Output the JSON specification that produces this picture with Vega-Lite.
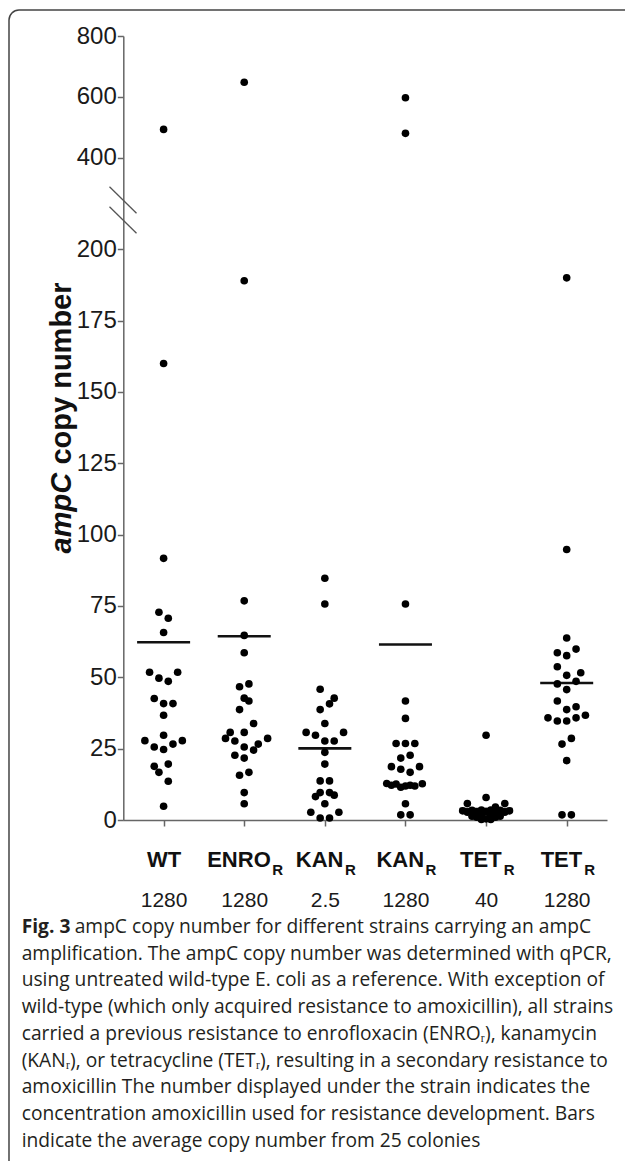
{
  "$schema": "https://vega.github.io/schema/vega-lite/v6.json",
  "autosize": {"type": "none"},
  "padding": {"left": 9, "top": 10, "right": -24, "bottom": -29},
  "width": 640,
  "height": 1180,
  "config": {
    "view": {"stroke": "#444", "strokeWidth": 1.5, "cornerRadius": 10},
    "font": "Liberation Sans",
    "axis": {"grid": false}
  },
  "datasets": {
    "points": [
      {"s": "WT|1280", "v": 493, "k": 0}, {"s": "WT|1280", "v": 160, "k": 0}, {"s": "WT|1280", "v": 91.7, "k": 0},
      {"s": "WT|1280", "v": 72.8, "k": -1}, {"s": "WT|1280", "v": 70.7, "k": 1}, {"s": "WT|1280", "v": 65.7, "k": 0},
      {"s": "WT|1280", "v": 51.8, "k": -3}, {"s": "WT|1280", "v": 49.7, "k": -1}, {"s": "WT|1280", "v": 48.6, "k": 1},
      {"s": "WT|1280", "v": 51.8, "k": 3}, {"s": "WT|1280", "v": 42.6, "k": -2}, {"s": "WT|1280", "v": 40.8, "k": 0},
      {"s": "WT|1280", "v": 40.8, "k": 2}, {"s": "WT|1280", "v": 36.7, "k": 0}, {"s": "WT|1280", "v": 29.7, "k": 0},
      {"s": "WT|1280", "v": 27.8, "k": -4}, {"s": "WT|1280", "v": 25.6, "k": -2}, {"s": "WT|1280", "v": 24.7, "k": 0},
      {"s": "WT|1280", "v": 26.6, "k": 2}, {"s": "WT|1280", "v": 27.8, "k": 4}, {"s": "WT|1280", "v": 18.8, "k": -2},
      {"s": "WT|1280", "v": 16.7, "k": -1}, {"s": "WT|1280", "v": 19.6, "k": 1}, {"s": "WT|1280", "v": 13.6, "k": 1},
      {"s": "WT|1280", "v": 4.8, "k": 0},
      {"s": "ENRO|1280", "v": 648, "k": 0}, {"s": "ENRO|1280", "v": 189, "k": 0}, {"s": "ENRO|1280", "v": 76.8, "k": 0},
      {"s": "ENRO|1280", "v": 64.7, "k": 0}, {"s": "ENRO|1280", "v": 58.6, "k": 0}, {"s": "ENRO|1280", "v": 46.7, "k": -1},
      {"s": "ENRO|1280", "v": 47.7, "k": 1}, {"s": "ENRO|1280", "v": 42.7, "k": 0}, {"s": "ENRO|1280", "v": 41.7, "k": 1},
      {"s": "ENRO|1280", "v": 38.7, "k": -1}, {"s": "ENRO|1280", "v": 33.8, "k": 2}, {"s": "ENRO|1280", "v": 30.7, "k": -3},
      {"s": "ENRO|1280", "v": 30.7, "k": 0}, {"s": "ENRO|1280", "v": 28.6, "k": -4}, {"s": "ENRO|1280", "v": 27.7, "k": -2},
      {"s": "ENRO|1280", "v": 28.6, "k": 5}, {"s": "ENRO|1280", "v": 25.6, "k": 0}, {"s": "ENRO|1280", "v": 24.5, "k": 2},
      {"s": "ENRO|1280", "v": 26.6, "k": 3}, {"s": "ENRO|1280", "v": 22.7, "k": -2}, {"s": "ENRO|1280", "v": 21.7, "k": 0},
      {"s": "ENRO|1280", "v": 15.7, "k": -1}, {"s": "ENRO|1280", "v": 16.7, "k": 1}, {"s": "ENRO|1280", "v": 9.6, "k": 0},
      {"s": "ENRO|1280", "v": 5.7, "k": 0},
      {"s": "KAN|2.5", "v": 84.7, "k": 0}, {"s": "KAN|2.5", "v": 75.7, "k": 0}, {"s": "KAN|2.5", "v": 45.8, "k": -1},
      {"s": "KAN|2.5", "v": 42.7, "k": 2}, {"s": "KAN|2.5", "v": 40.7, "k": 1}, {"s": "KAN|2.5", "v": 38.7, "k": -1},
      {"s": "KAN|2.5", "v": 33.8, "k": 0}, {"s": "KAN|2.5", "v": 30.7, "k": -4}, {"s": "KAN|2.5", "v": 29.7, "k": -2},
      {"s": "KAN|2.5", "v": 30.7, "k": 4}, {"s": "KAN|2.5", "v": 27.7, "k": 0}, {"s": "KAN|2.5", "v": 27.7, "k": 2},
      {"s": "KAN|2.5", "v": 23.7, "k": 0}, {"s": "KAN|2.5", "v": 19.6, "k": 0}, {"s": "KAN|2.5", "v": 13.7, "k": -1},
      {"s": "KAN|2.5", "v": 13.7, "k": 1}, {"s": "KAN|2.5", "v": 8.2, "k": -2}, {"s": "KAN|2.5", "v": 9.6, "k": -1},
      {"s": "KAN|2.5", "v": 9.6, "k": 1}, {"s": "KAN|2.5", "v": 8.7, "k": 2}, {"s": "KAN|2.5", "v": 5.7, "k": 0},
      {"s": "KAN|2.5", "v": 2.7, "k": -3}, {"s": "KAN|2.5", "v": 2.7, "k": 3}, {"s": "KAN|2.5", "v": 0.7, "k": -1},
      {"s": "KAN|2.5", "v": 0.7, "k": 1},
      {"s": "KAN|1280", "v": 597, "k": 0}, {"s": "KAN|1280", "v": 480, "k": 0}, {"s": "KAN|1280", "v": 75.7, "k": 0},
      {"s": "KAN|1280", "v": 41.7, "k": 0}, {"s": "KAN|1280", "v": 35.6, "k": 0}, {"s": "KAN|1280", "v": 26.8, "k": -2},
      {"s": "KAN|1280", "v": 26.8, "k": 0}, {"s": "KAN|1280", "v": 26.8, "k": 2}, {"s": "KAN|1280", "v": 21.7, "k": -1},
      {"s": "KAN|1280", "v": 22.7, "k": 1}, {"s": "KAN|1280", "v": 18.7, "k": -3}, {"s": "KAN|1280", "v": 17.8, "k": -1},
      {"s": "KAN|1280", "v": 18.7, "k": 3}, {"s": "KAN|1280", "v": 16.7, "k": 1}, {"s": "KAN|1280", "v": 12.8, "k": -4},
      {"s": "KAN|1280", "v": 12.2, "k": -3}, {"s": "KAN|1280", "v": 12.6, "k": -2}, {"s": "KAN|1280", "v": 11.5, "k": -1},
      {"s": "KAN|1280", "v": 11.9, "k": 0}, {"s": "KAN|1280", "v": 12.2, "k": 1}, {"s": "KAN|1280", "v": 11.9, "k": 2},
      {"s": "KAN|1280", "v": 12.7, "k": 3.6}, {"s": "KAN|1280", "v": 5.7, "k": 0}, {"s": "KAN|1280", "v": 1.8, "k": -1},
      {"s": "KAN|1280", "v": 1.8, "k": 1},
      {"s": "TET|40", "v": 29.7, "k": 0}, {"s": "TET|40", "v": 7.9, "k": 0}, {"s": "TET|40", "v": 5.8, "k": -4},
      {"s": "TET|40", "v": 5.8, "k": 4}, {"s": "TET|40", "v": 4.5, "k": 2}, {"s": "TET|40", "v": 3.2, "k": -5},
      {"s": "TET|40", "v": 2.7, "k": -4}, {"s": "TET|40", "v": 3.4, "k": -3}, {"s": "TET|40", "v": 2.9, "k": -2},
      {"s": "TET|40", "v": 3.5, "k": -1}, {"s": "TET|40", "v": 3.0, "k": 0}, {"s": "TET|40", "v": 3.5, "k": 1},
      {"s": "TET|40", "v": 2.9, "k": 2}, {"s": "TET|40", "v": 3.4, "k": 3}, {"s": "TET|40", "v": 2.7, "k": 4},
      {"s": "TET|40", "v": 3.2, "k": 5}, {"s": "TET|40", "v": 1.3, "k": -3}, {"s": "TET|40", "v": 1.0, "k": -2},
      {"s": "TET|40", "v": 1.5, "k": -1}, {"s": "TET|40", "v": 1.5, "k": 1}, {"s": "TET|40", "v": 1.0, "k": 2},
      {"s": "TET|40", "v": 1.3, "k": 3}, {"s": "TET|40", "v": 0.2, "k": -1}, {"s": "TET|40", "v": 0.4, "k": 0},
      {"s": "TET|40", "v": 0.2, "k": 1},
      {"s": "TET|1280", "v": 190, "k": 0}, {"s": "TET|1280", "v": 94.8, "k": 0}, {"s": "TET|1280", "v": 63.8, "k": 0},
      {"s": "TET|1280", "v": 58.6, "k": -2}, {"s": "TET|1280", "v": 57.6, "k": 0}, {"s": "TET|1280", "v": 59.9, "k": 2},
      {"s": "TET|1280", "v": 53.7, "k": -2}, {"s": "TET|1280", "v": 50.7, "k": 0}, {"s": "TET|1280", "v": 51.6, "k": 3},
      {"s": "TET|1280", "v": 47.7, "k": -2}, {"s": "TET|1280", "v": 48.6, "k": 2}, {"s": "TET|1280", "v": 45.7, "k": 0},
      {"s": "TET|1280", "v": 41.7, "k": -2}, {"s": "TET|1280", "v": 38.7, "k": 0}, {"s": "TET|1280", "v": 39.7, "k": 2},
      {"s": "TET|1280", "v": 35.8, "k": -4}, {"s": "TET|1280", "v": 34.7, "k": -2}, {"s": "TET|1280", "v": 34.7, "k": 0},
      {"s": "TET|1280", "v": 35.8, "k": 2}, {"s": "TET|1280", "v": 36.7, "k": 4}, {"s": "TET|1280", "v": 26.6, "k": -1},
      {"s": "TET|1280", "v": 28.6, "k": 1}, {"s": "TET|1280", "v": 20.8, "k": 0}, {"s": "TET|1280", "v": 1.8, "k": -1},
      {"s": "TET|1280", "v": 1.8, "k": 1}
    ],
    "means": [
      {"s": "WT|1280", "mean": 62.3}, {"s": "ENRO|1280", "mean": 64.4}, {"s": "KAN|2.5", "mean": 25.1},
      {"s": "KAN|1280", "mean": 61.5}, {"s": "TET|40", "mean": 3.8}, {"s": "TET|1280", "mean": 48.0}
    ],
    "breaks": [
      {"x1": -1, "x2": 1, "y1": 336.7, "y2": 278.6},
      {"x1": -1, "x2": 1, "y1": 293, "y2": 234.9}
    ],
    "caption": [
      {"line": 1, "part": "bold", "text": "Fig. 3"},
      {"line": 1, "part": "lead", "text": "ampC copy number for different strains carrying an ampC"},
      {"line": 2, "part": "body", "text": "amplification. The ampC copy number was determined with qPCR,"},
      {"line": 3, "part": "body", "text": "using untreated wild-type E. coli as a reference. With exception of"},
      {"line": 4, "part": "body", "text": "wild-type (which only acquired resistance to amoxicillin), all strains"},
      {"line": 5, "part": "body", "text": "carried a previous resistance to enrofloxacin (ENROᵣ), kanamycin"},
      {"line": 6, "part": "body", "text": "(KANᵣ), or tetracycline (TETᵣ), resulting in a secondary resistance to"},
      {"line": 7, "part": "body", "text": "amoxicillin The number displayed under the strain indicates the"},
      {"line": 8, "part": "body", "text": "concentration amoxicillin used for resistance development. Bars"},
      {"line": 9, "part": "body", "text": "indicate the average copy number from 25 colonies"}
    ]
  },
  "resolve": {"scale": {"x": "independent", "y": "independent", "xOffset": "independent"}},
  "layer": [
    {
      "data": {"name": "means"},
      "mark": {"type": "tick", "color": "#111", "opacity": 1, "thickness": 2.6, "size": 53},
      "encoding": {
        "x": {"field": "s", "type": "nominal", "sort": null,
          "scale": {"type": "point", "domain": ["WT|1280", "ENRO|1280", "KAN|2.5", "KAN|1280", "TET|40", "TET|1280"], "range": [114.3, 598], "padding": 0.5},
          "axis": {"orient": "bottom", "offset": -370, "domain": false, "ticks": false, "tickSize": 0, "labelPadding": 69, "labelExpr": "split(datum.value,'|')[1]", "labelFontSize": 21, "labelColor": "#1a1a1a", "labelFont": "Liberation Sans", "labelAngle": 0, "title": null}},
        "y": {"field": "mean", "type": "quantitative", "scale": {"domain": [0, 200, 400, 800], "range": [810, 239.3, 147.7, 26], "nice": false, "zero": false}, "axis": null}
      }
    },
    {
      "data": {"name": "points"},
      "transform": [{"filter": "datum.v < 300"}],
      "mark": {"type": "circle", "size": 58, "opacity": 1, "color": "#000"},
      "encoding": {
        "x": {"field": "s", "type": "nominal", "sort": null,
          "scale": {"type": "point", "domain": ["WT|1280", "ENRO|1280", "KAN|2.5", "KAN|1280", "TET|40", "TET|1280"], "range": [114.3, 598], "padding": 0.5},
          "axis": {"orient": "bottom", "offset": -370, "domain": true, "domainColor": "#666", "domainWidth": 1.5, "ticks": true, "tickColor": "#666", "tickWidth": 1.5, "tickSize": 6, "labelPadding": 23, "labelExpr": "split(datum.value,'|')[0]", "labelFontSize": 22, "labelFontWeight": "bold", "labelColor": "#111", "labelFont": "Liberation Sans", "labelOffset": {"condition": {"test": "datum.value == 'WT|1280'", "value": 0}, "value": -5.75}, "labelAngle": 0, "title": null}},
        "xOffset": {"field": "k", "type": "quantitative", "scale": {"domain": [-5, 5], "range": [-23.4, 23.4]}},
        "y": {"field": "v", "type": "quantitative", "scale": {"domain": [0, 200, 400, 800], "range": [810, 239.3, 147.7, 26], "nice": false, "zero": false},
          "axis": {"orient": "left", "offset": -114.3, "values": [0, 25, 50, 75, 100, 125, 150, 175, 200, 400, 600, 800], "domainColor": "#666", "domainWidth": 1.5, "tickColor": "#666", "tickWidth": 1.5, "tickSize": 6, "labelPadding": 1, "labelFontSize": 24, "labelColor": "#1a1a1a", "labelFont": "Liberation Sans",
            "title": "copy number", "titleFont": "Liberation Sans", "titleFontSize": 29, "titleFontWeight": "bold", "titleColor": "#111", "titleAngle": 270, "titleAlign": "center", "titleBaseline": "alphabetic", "titleX": -53.3, "titleY": 363}}
      }
    },
    {
      "data": {"name": "points"},
      "transform": [{"filter": "datum.v >= 300"}],
      "mark": {"type": "circle", "size": 58, "opacity": 1, "color": "#000"},
      "encoding": {
        "x": {"field": "s", "type": "nominal", "sort": null,
          "scale": {"type": "point", "domain": ["WT|1280", "ENRO|1280", "KAN|2.5", "KAN|1280", "TET|40", "TET|1280"], "range": [114.3, 598], "padding": 0.5},
          "axis": {"orient": "bottom", "offset": -370, "domain": false, "ticks": false, "tickSize": 0, "labelPadding": 42.5, "labelExpr": "datum.value == 'WT|1280' ? '' : 'R'", "labelFontSize": 15, "labelFontWeight": "bold", "labelColor": "#111", "labelFont": "Liberation Sans", "labelOffset": {"condition": [{"test": "indexof(datum.value,'ENRO')==0", "value": 33}, {"test": "indexof(datum.value,'KAN')==0", "value": 25}], "value": 22.5}, "labelAngle": 0, "title": null}},
        "xOffset": {"field": "k", "type": "quantitative", "scale": {"domain": [-5, 5], "range": [-23.4, 23.4]}},
        "y": {"field": "v", "type": "quantitative", "scale": {"domain": [0, 200, 400, 800], "range": [810, 239.3, 147.7, 26], "nice": false, "zero": false}, "axis": null}
      }
    },
    {
      "data": {"name": "breaks"},
      "mark": {"type": "rule", "color": "#555", "strokeWidth": 1.3},
      "encoding": {
        "x": {"field": "x1", "type": "quantitative", "scale": {"domain": [-1, 1], "range": [100.5, 127.5], "nice": false, "zero": false}, "axis": null},
        "x2": {"field": "x2"},
        "y": {"field": "y1", "type": "quantitative", "scale": {"domain": [0, 200, 400, 800], "range": [810, 239.3, 147.7, 26], "nice": false, "zero": false},
          "axis": {"orient": "left", "offset": -114.3, "domain": false, "ticks": false, "labels": false,
            "title": "ampC", "titleFont": "Liberation Sans", "titleFontSize": 29, "titleFontWeight": "bold", "titleFontStyle": "italic", "titleColor": "#111", "titleAngle": 270, "titleAlign": "center", "titleBaseline": "alphabetic", "titleX": -53.3, "titleY": 502.6}},
        "y2": {"field": "y2"}
      }
    },
    {
      "data": {"name": "caption"},
      "transform": [{"filter": "datum.part == 'bold'"}],
      "mark": {"type": "text", "font": "Open Sans", "fontSize": 19.2, "fontWeight": "bold", "align": "left", "baseline": "alphabetic", "color": "#231f20"},
      "encoding": {
        "x": {"datum": 0, "type": "quantitative", "scale": {"domain": [0, 1], "range": [12.7, 600], "nice": false, "zero": false}, "axis": null},
        "y": {"field": "line", "type": "quantitative", "scale": {"domain": [1, 9], "range": [923, 1136.7], "nice": false, "zero": false}, "axis": null},
        "text": {"field": "text"}
      }
    },
    {
      "data": {"name": "caption"},
      "transform": [{"filter": "datum.part == 'lead'"}],
      "mark": {"type": "text", "font": "Open Sans", "fontSize": 19.2, "align": "left", "baseline": "alphabetic", "color": "#231f20", "dx": 53},
      "encoding": {
        "x": {"datum": 0, "type": "quantitative", "scale": {"domain": [0, 1], "range": [12.7, 600], "nice": false, "zero": false}, "axis": null},
        "y": {"field": "line", "type": "quantitative", "scale": {"domain": [1, 9], "range": [923, 1136.7], "nice": false, "zero": false}, "axis": null},
        "text": {"field": "text"}
      }
    },
    {
      "data": {"name": "caption"},
      "transform": [{"filter": "datum.part == 'body'"}],
      "mark": {"type": "text", "font": "Open Sans", "fontSize": 19.2, "align": "left", "baseline": "alphabetic", "color": "#231f20"},
      "encoding": {
        "x": {"datum": 0, "type": "quantitative", "scale": {"domain": [0, 1], "range": [12.7, 600], "nice": false, "zero": false}, "axis": null},
        "y": {"field": "line", "type": "quantitative", "scale": {"domain": [1, 9], "range": [923, 1136.7], "nice": false, "zero": false}, "axis": null},
        "text": {"field": "text"}
      }
    }
  ]
}
